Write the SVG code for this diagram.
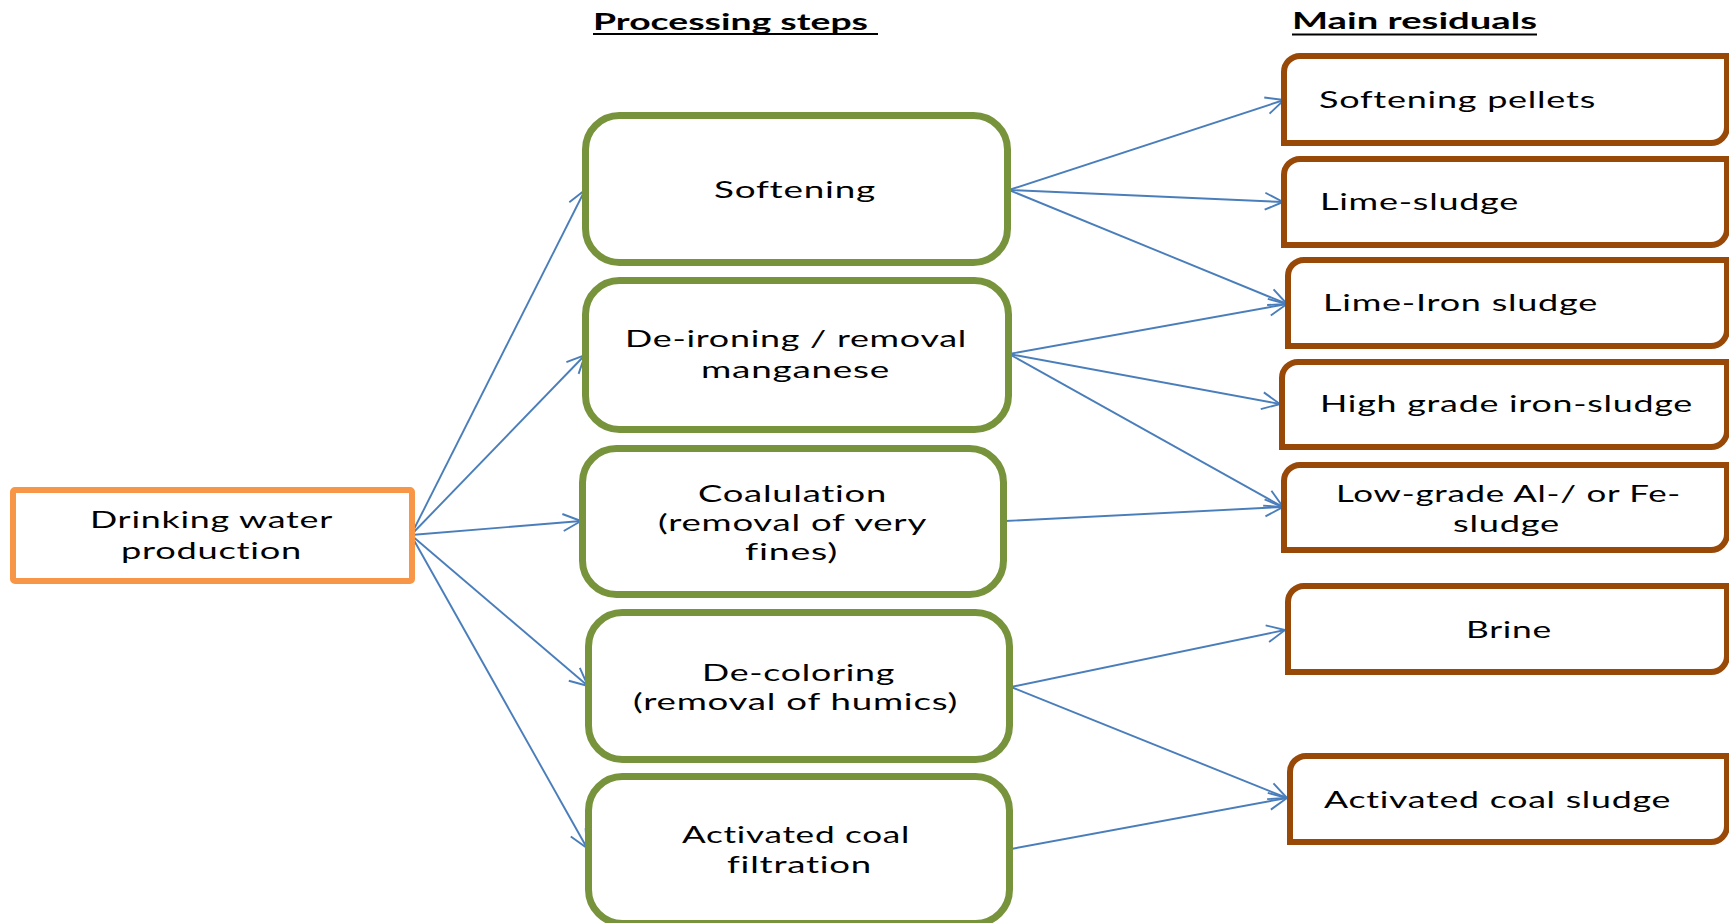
<svg xmlns="http://www.w3.org/2000/svg" width="1729" height="923" viewBox="0 0 1729 923">
<defs>
<style>
.t{font-family:Lato,"Open Sans","Liberation Sans",sans-serif;font-size:24px;letter-spacing:0.5px;font-variant-ligatures:none;fill:#000}
.h{font-family:Lato,"Open Sans","Liberation Sans",sans-serif;font-size:22px;font-weight:bold;font-variant-ligatures:none;fill:#000}
.g{fill:#fff;stroke:#77933C;stroke-width:7}
.b{fill:#fff;stroke:#984807;stroke-width:6}
.o{fill:#fff;stroke:#F79646;stroke-width:6}
.c{fill:none;stroke:#4A7EBB;stroke-width:1.9}
.u{stroke:#000;stroke-width:2}
</style>
<marker id="arr" viewBox="-20 -11 22 22" refX="0" refY="0" markerWidth="22" markerHeight="22" markerUnits="userSpaceOnUse" orient="auto">
<path d="M-18,-8.5 L0,0 L-18,8.5" fill="none" stroke="#4A7EBB" stroke-width="1.9"/>
</marker>
</defs>
<rect width="1729" height="923" fill="#fff"/>

<g id="headers">
<text class="h" x="593" y="30" textLength="275" lengthAdjust="spacingAndGlyphs">Processing steps</text>
<line class="u" x1="593" y1="34" x2="878" y2="34"/>
<text class="h" x="1292" y="29" textLength="245" lengthAdjust="spacingAndGlyphs">Main residuals</text>
<line class="u" x1="1292" y1="34.5" x2="1537" y2="34.5"/>
</g>

<g id="connectors">
<line class="c" x1="411" y1="535" x2="585" y2="190" marker-end="url(#arr)"/>
<line class="c" x1="411" y1="535" x2="585" y2="355" marker-end="url(#arr)"/>
<line class="c" x1="411" y1="535" x2="581" y2="521" marker-end="url(#arr)"/>
<line class="c" x1="411" y1="535" x2="588" y2="686" marker-end="url(#arr)"/>
<line class="c" x1="411" y1="535" x2="587" y2="848" marker-end="url(#arr)"/>
<line class="c" x1="1009" y1="190" x2="1284" y2="100" marker-end="url(#arr)"/>
<line class="c" x1="1009" y1="190" x2="1283" y2="202" marker-end="url(#arr)"/>
<line class="c" x1="1009" y1="190" x2="1287" y2="304" marker-end="url(#arr)"/>
<line class="c" x1="1009" y1="354" x2="1287" y2="304" marker-end="url(#arr)"/>
<line class="c" x1="1009" y1="354" x2="1280" y2="404" marker-end="url(#arr)"/>
<line class="c" x1="1009" y1="354" x2="1283" y2="507" marker-end="url(#arr)"/>
<line class="c" x1="1005" y1="521" x2="1283" y2="507" marker-end="url(#arr)"/>
<line class="c" x1="1011" y1="687" x2="1285" y2="630" marker-end="url(#arr)"/>
<line class="c" x1="1011" y1="687" x2="1287" y2="798" marker-end="url(#arr)"/>
<line class="c" x1="1011" y1="849" x2="1287" y2="798" marker-end="url(#arr)"/>
</g>

<g id="drinking-water">
<rect class="o" x="13" y="490" width="399" height="91" rx="2"/>
<text class="t" x="90" y="528" textLength="243" lengthAdjust="spacingAndGlyphs">Drinking water</text>
<text class="t" x="121" y="559" textLength="181" lengthAdjust="spacingAndGlyphs">production</text>
</g>

<g id="softening">
<rect class="g" x="585.5" y="115.5" width="422" height="147" rx="34"/>
<text class="t" x="714" y="198" textLength="162" lengthAdjust="spacingAndGlyphs">Softening</text>
</g>

<g id="de-ironing">
<rect class="g" x="585.5" y="280.5" width="423" height="149" rx="34"/>
<text class="t" x="625" y="347" textLength="342" lengthAdjust="spacingAndGlyphs">De-ironing / removal</text>
<text class="t" x="701" y="378" textLength="189" lengthAdjust="spacingAndGlyphs">manganese</text>
</g>

<g id="coagulation">
<rect class="g" x="582.5" y="448.5" width="421" height="146" rx="34"/>
<text class="t" x="698" y="502" textLength="189" lengthAdjust="spacingAndGlyphs">Coalulation</text>
<text class="t" x="658" y="531" textLength="269" lengthAdjust="spacingAndGlyphs">(removal of very</text>
<text class="t" x="745" y="560" textLength="93" lengthAdjust="spacingAndGlyphs">fines)</text>
</g>

<g id="de-coloring">
<rect class="g" x="588.5" y="612.5" width="421" height="147" rx="34"/>
<text class="t" x="702" y="681" textLength="193" lengthAdjust="spacingAndGlyphs">De-coloring</text>
<text class="t" x="633" y="710" textLength="325" lengthAdjust="spacingAndGlyphs">(removal of humics)</text>
</g>

<g id="activated-coal-filtration">
<rect class="g" x="588.5" y="776.5" width="421" height="147" rx="34"/>
<text class="t" x="682" y="843" textLength="228" lengthAdjust="spacingAndGlyphs">Activated coal</text>
<text class="t" x="727" y="873" textLength="145" lengthAdjust="spacingAndGlyphs">filtration</text>
</g>

<g id="softening-pellets">
<path class="b" d="M1284,143 V72 A16,16 0 0 1 1300,56 H1727 V127 A16,16 0 0 1 1711,143 Z"/>
<text class="t" x="1319" y="108" textLength="277" lengthAdjust="spacingAndGlyphs">Softening pellets</text>
</g>

<g id="lime-sludge">
<path class="b" d="M1284,245 V175 A16,16 0 0 1 1300,159 H1727 V229 A16,16 0 0 1 1711,245 Z"/>
<text class="t" x="1320" y="210" textLength="199" lengthAdjust="spacingAndGlyphs">Lime-sludge</text>
</g>

<g id="lime-iron-sludge">
<path class="b" d="M1288,346 V276 A16,16 0 0 1 1304,260 H1727 V330 A16,16 0 0 1 1711,346 Z"/>
<text class="t" x="1323" y="311" textLength="275" lengthAdjust="spacingAndGlyphs">Lime-Iron sludge</text>
</g>

<g id="high-grade-iron-sludge">
<path class="b" d="M1282,447 V378 A16,16 0 0 1 1298,362 H1727 V431 A16,16 0 0 1 1711,447 Z"/>
<text class="t" x="1320" y="412" textLength="373" lengthAdjust="spacingAndGlyphs">High grade iron-sludge</text>
</g>

<g id="low-grade-sludge">
<path class="b" d="M1284,550 V481 A16,16 0 0 1 1300,465 H1727 V534 A16,16 0 0 1 1711,550 Z"/>
<text class="t" x="1336" y="502" textLength="345" lengthAdjust="spacingAndGlyphs">Low-grade Al-/ or Fe-</text>
<text class="t" x="1453" y="532" textLength="107" lengthAdjust="spacingAndGlyphs">sludge</text>
</g>

<g id="brine">
<path class="b" d="M1288,672 V602 A16,16 0 0 1 1304,586 H1727 V656 A16,16 0 0 1 1711,672 Z"/>
<text class="t" x="1466" y="638" textLength="86" lengthAdjust="spacingAndGlyphs">Brine</text>
</g>

<g id="activated-coal-sludge">
<path class="b" d="M1290,842 V772 A16,16 0 0 1 1306,756 H1727 V826 A16,16 0 0 1 1711,842 Z"/>
<text class="t" x="1324" y="808" textLength="347" lengthAdjust="spacingAndGlyphs">Activated coal sludge</text>
</g>
</svg>
